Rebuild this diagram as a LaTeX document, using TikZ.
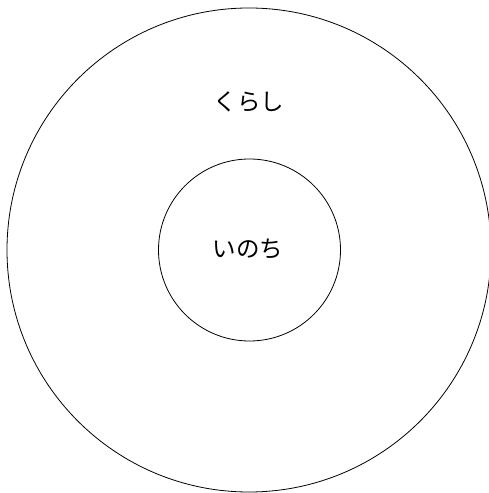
\documentclass[tikz,border=0pt]{standalone}
\usepackage{fontspec}
\newfontfamily\cjk{Noto Sans CJK JP}
\begin{document}
\begin{tikzpicture}[x=1pt,y=1pt,
  ring/.style={draw=black,line width=0.8pt},
  lbl/.style={font=\cjk\fontsize{23.5}{26}\selectfont,inner sep=0pt}]
\useasboundingbox (0,0) rectangle (488,493);
\node[ring,circle,minimum size=484pt,inner sep=0pt] (outer) at (249,243) {};
\node[ring,circle,minimum size=182pt,inner sep=0pt] (inner) at (249.5,243) {};
\node[lbl] (kurashi) at (249,391) {くらし};
\node[lbl] (inochi) at (248,244) {いのち};
\end{tikzpicture}
\end{document}
